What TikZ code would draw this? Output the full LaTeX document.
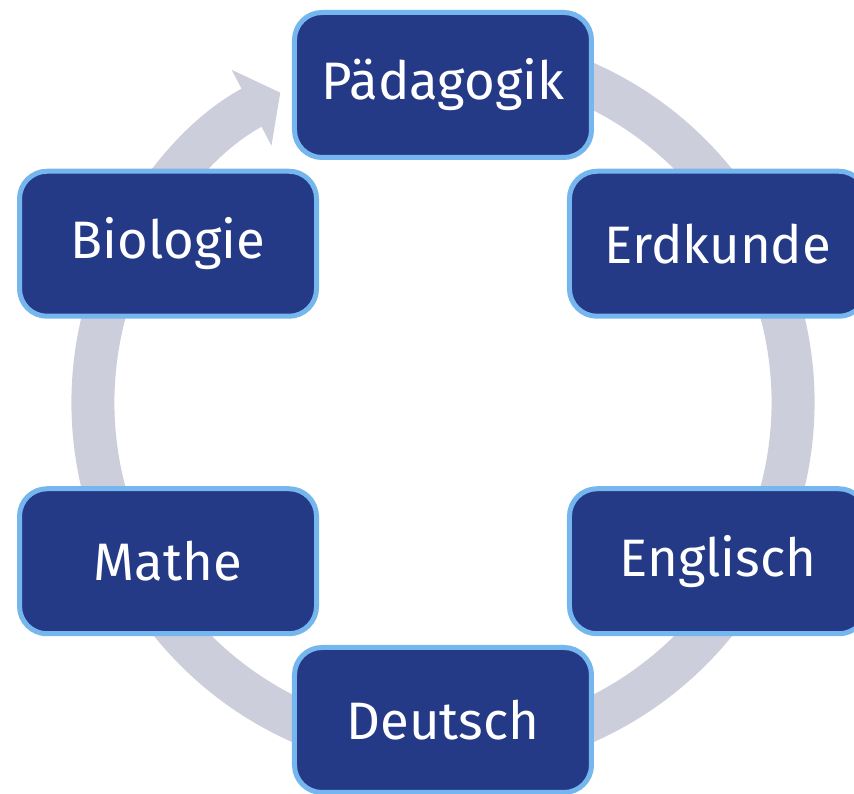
\documentclass[tikz,border=0pt]{standalone}
\usepackage{fontspec}
\setmainfont{Fira Sans}
\usetikzlibrary{arrows.meta}

\definecolor{navy}{RGB}{37,58,134}
\definecolor{edgeblue}{RGB}{118,182,238}
\definecolor{ringgray}{RGB}{205,206,219}

\tikzset{
	subj/.style={rectangle, rounded corners=0.55cm, draw=edgeblue, line width=0.1cm, fill=navy, text=white, minimum width=5.94cm, minimum height=2.9cm, font=\fontsize{30}{36}\selectfont},
	ring/.style={draw=ringgray, line width=0.86cm, -{Triangle[length=0.65cm, width=1.68cm]}}
}

\begin{document}
\begin{tikzpicture}

\def\ringR{7}
\def\boxR{6.35}

\useasboundingbox (-8.86, -7.83) rectangle (8.22, 8.05);
\clip (-8.86, -7.83) rectangle (8.22, 8.05);

\draw[ring] (75:\ringR) arc[start angle=75, end angle=-242.3, radius=\ringR];

\node (paed) at (90:\boxR) [subj] {Pädagogik};
\node (erd) at (30:\boxR) [subj] {Erdkunde};
\node (engl) at (-30:\boxR) [subj] {Englisch};
\node (deu) at (-90:\boxR) [subj] {Deutsch};
\node (mathe) at (210:\boxR) [subj] {Mathe};
\node (bio) at (150:\boxR) [subj] {Biologie};

\end{tikzpicture}
\end{document}
